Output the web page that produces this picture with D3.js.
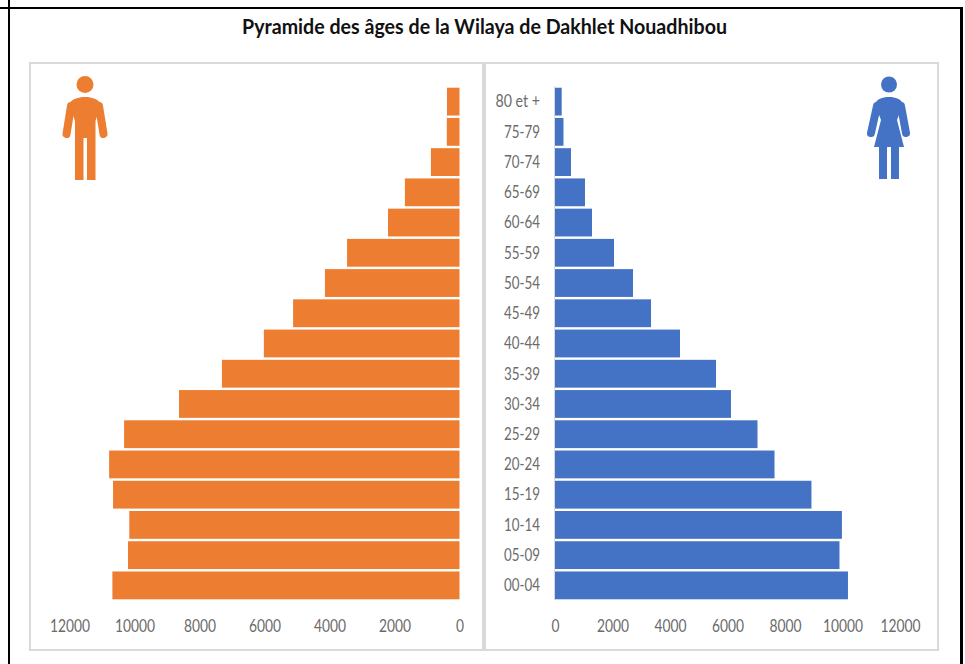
<!DOCTYPE html>
<html><head><meta charset="utf-8">
<script src="https://cdn.jsdelivr.net/npm/d3@7/dist/d3.min.js"></script>
<style>
html,body{margin:0;padding:0;background:#fff;overflow:hidden}
svg{display:block}
text{font-family:Lato,"Open Sans",sans-serif}
</style></head><body>
<svg id="c" width="965" height="664"></svg>
<script>
const titleText = "Pyramide des âges de la Wilaya de Dakhlet Nouadhibou";
const ageGroups = ["80 et +","75-79","70-74","65-69","60-64","55-59","50-54","45-49","40-44","35-39","30-34","25-29","20-24","15-19","10-14","05-09","00-04"];
const menValues = [385,390,880,1680,2200,3460,4140,5120,6020,7310,8630,10320,10780,10660,10160,10200,10680];
const womenValues = [233,295,556,1043,1287,2052,2713,3340,4348,5600,6120,7043,7635,8920,9980,9895,10190];
const tickValues = [0,2000,4000,6000,8000,10000,12000];
const orange = "#ed7d31", blue = "#4472c4", gray = "#6b6b6b", line = "#d9d9d9";

const svg = d3.select("#c");

// page frame
svg.append("rect").attr("x",0).attr("y",7).attr("width",962).attr("height",2).attr("fill","#000");
svg.append("rect").attr("x",8).attr("y",0).attr("width",2).attr("height",664).attr("fill","#000");
svg.append("rect").attr("x",960).attr("y",7).attr("width",3).attr("height",657).attr("fill","#000");

// panels
[[30,483],[485,938]].forEach(([a,b])=>{
  svg.append("rect").attr("x",a).attr("y",63).attr("width",b-a).attr("height",587)
    .attr("fill","#fff").attr("stroke",line).attr("stroke-width",2);
});

svg.append("text").attr("x",484.5).attr("y",33.5).attr("text-anchor","middle")
  .attr("font-size",21).attr("font-weight",700).attr("fill","#111")
  .attr("textLength",485).attr("lengthAdjust","spacingAndGlyphs").text(titleText);

const y = d3.scaleBand().domain(ageGroups).range([86.5,600.5]).paddingInner(0.08).paddingOuter(0.04);
const xL = d3.scaleLinear().domain([0,12000]).range([459.5,69.5]);
const xR = d3.scaleLinear().domain([0,12000]).range([555,900]);

const rows = ageGroups.map((a,i)=>({a,m:menValues[i],w:womenValues[i]}));
svg.append("g").selectAll("rect").data(rows).join("rect")
  .attr("x",d=>xL(d.m)).attr("y",d=>y(d.a)).attr("width",d=>xL(0)-xL(d.m)).attr("height",y.bandwidth()).attr("fill",orange);
svg.append("g").selectAll("rect").data(rows).join("rect")
  .attr("x",xR(0)).attr("y",d=>y(d.a)).attr("width",d=>xR(d.w)-xR(0)).attr("height",y.bandwidth()).attr("fill",blue);

function styleAxis(g, widthFn){
  g.select(".domain").remove();
  g.selectAll(".tick line").remove();
  g.selectAll("text").attr("fill",gray).style("font-size","18px")
    .attr("textLength",widthFn).attr("lengthAdjust","spacingAndGlyphs");
}
const digitW = s => String(s).length*8;
svg.append("g").attr("transform","translate(0,625)")
  .call(d3.axisBottom(xL).tickValues(tickValues).tickFormat(d3.format("d")).tickSize(0).tickPadding(0))
  .call(g=>styleAxis(g,d=>digitW(d)));
svg.append("g").attr("transform","translate(0,625)")
  .call(d3.axisBottom(xR).tickValues(tickValues).tickFormat(d3.format("d")).tickSize(0).tickPadding(0))
  .call(g=>styleAxis(g,d=>digitW(d)));
svg.selectAll("g .tick text").attr("dy",0).attr("y",6.5);

svg.append("line").attr("x1",554.5).attr("x2",554.5).attr("y1",86).attr("y2",600).attr("stroke",line).attr("stroke-width",1);
const yAxis = svg.append("g").attr("transform","translate(540,0)")
  .call(d3.axisLeft(y).tickSize(0).tickPadding(0));
yAxis.select(".domain").remove();
yAxis.selectAll("text").attr("fill",gray).style("font-size","18px")
  .attr("textLength",d=>d==="80 et +"?44.5:36).attr("lengthAdjust","spacingAndGlyphs");

// pictograms
function arm(x1,y1,x2,y2,w,c){ svg.append("line").attr("x1",x1).attr("y1",y1).attr("x2",x2).attr("y2",y2)
  .attr("stroke",c).attr("stroke-width",w).attr("stroke-linecap","round"); }
// man
svg.append("circle").attr("cx",85).attr("cy",84.5).attr("r",8.5).attr("fill",orange);
svg.append("path").attr("fill",orange).attr("d",
 "M85 97 C78 97 72 99 69 104 L75 121 L75 180 L83.5 180 L83.5 138 L87 138 L87 180 L95.5 180 L95.5 121 L101 104 C98 99 92 97 85 97Z");
arm(71,106,66.5,134,8,orange); arm(99,106,103.5,134,8,orange);
// woman
svg.append("circle").attr("cx",889).attr("cy",84.5).attr("r",8).attr("fill",blue);
svg.append("path").attr("fill",blue).attr("d",
 "M889 97 C882 97 877 99 875 104 L881 120 L874 147 L879 147 L879 179 L887 179 L887 147 L891 147 L891 179 L899 179 L899 147 L904 147 L897 120 L903 104 C901 99 896 97 889 97Z");
arm(877,106,871,133,8,blue); arm(901,106,906,133,8,blue);
</script>
</body></html>
